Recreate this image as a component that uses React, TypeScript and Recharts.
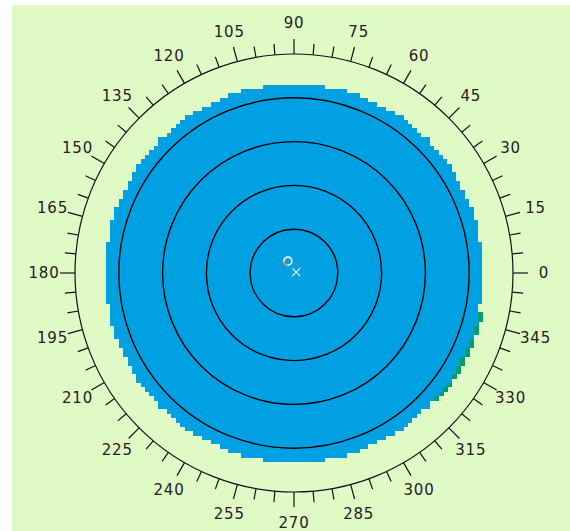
import React from 'react';
import {
  PieChart,
  Pie,
  RadarChart,
  PolarGrid,
  PolarAngleAxis,
  PolarRadiusAxis,
  ScatterChart,
  Scatter,
  XAxis,
  YAxis,
} from 'recharts';

const WIDTH = 558;
const HEIGHT = 526;
const CENTER_X = 282;
const CENTER_Y = 268;
const AXIS_RADIUS = 219;
const DISK_RADIUS = 189;
const FRINGE_RADIUS = 192.5;
const CELL = 4.38;

const BG = '#e0fac5';
const BLUE = '#00a0e3';
const FRINGE = '#009f6b';

// angle axis: labels every 15 degrees, ticks every 5 degrees
const angleLabels = [0, 15, 30, 45, 60, 75, 90, 105, 120, 135, 150, 165, 180, 195, 210, 225, 240, 255, 270, 285, 300, 315, 330, 345];
const angleTicks = Array.from({ length: 72 }, (_, i) => i * 5);

// radius axis: rings at 1..4, outer boundary at 5
const radiusDomain = [0, 5];
const ringValues = [1, 2, 3, 4];
const angleData = angleTicks.map((a, i) => ({ angle: a, r: i === 0 ? 0 : 5 }));

// coverage disk and the small fringe at lower right
const coverage = [{ name: 'coverage', value: 1 }];
const fringe = [{ name: 'fringe', value: 1 }];
const fringeStart = 318;
const fringeEnd = 348;

// centre markers (in radius units)
const centerCircle = [{ x: -0.14, y: 0.27 }];
const centerCross = [{ x: 0.05, y: 0.02 }];

const AngleTick = (props: any) => {
  const { x, y, payload } = props;
  const value = Number(payload.value);
  const deg = payload.coordinate ?? value;
  const a = (deg * Math.PI) / 180;
  const dx = Math.cos(-a);
  const dy = Math.sin(-a);
  const major = angleLabels.includes(value);
  const len = major ? 15 : 11;
  const bx = x - dx * 15;
  const by = y - dy * 15;
  return (
    <g>
      <line x1={bx} y1={by} x2={bx + dx * len} y2={by + dy * len} stroke="#111" strokeWidth={1.2} />
      {major && (
        <text
          x={x + dx * 16}
          y={y + dy * 16}
          textAnchor="middle"
          dominantBaseline="central"
          fontFamily="DejaVu Sans, Verdana, sans-serif"
          fontSize={15}
          letterSpacing={0.8}
          fill="#222"
        >
          {value}
        </text>
      )}
    </g>
  );
};

const PixelSector = (props: any) => {
  const { cx, cy, outerRadius, startAngle, endAngle, fill } = props;
  const R = outerRadius;
  const n = Math.ceil(R / CELL) + 1;
  const full = Math.abs(endAngle - startAngle) >= 359.99;
  if (full) {
    let d = '';
    for (let j = -n; j < n; j++) {
      const yc = (j + 0.5) * CELL;
      if (Math.abs(yc) > R) continue;
      const k = Math.floor(Math.sqrt(R * R - yc * yc) / CELL + 0.5);
      if (k <= 0) continue;
      d += `M${cx - k * CELL},${cy + j * CELL}h${2 * k * CELL}v${CELL + 0.6}h${-2 * k * CELL}Z`;
    }
    return <path d={d} fill={fill} stroke="none" shapeRendering="crispEdges" />;
  }
  const lo = Math.min(startAngle, endAngle);
  const hi = Math.max(startAngle, endAngle);
  let d = '';
  for (let j = -n; j < n; j++) {
    for (let i = -n; i < n; i++) {
      const xc = (i + 0.5) * CELL;
      const yc = (j + 0.5) * CELL;
      if (xc * xc + yc * yc > R * R) continue;
      let ang = (Math.atan2(-yc, xc) * 180) / Math.PI;
      if (ang < 0) ang += 360;
      if (ang < lo || ang > hi) continue;
      d += `M${cx + i * CELL},${cy + j * CELL}h${CELL + 0.6}v${CELL + 0.6}h${-(CELL + 0.6)}Z`;
    }
  }
  return <path d={d} fill={fill} stroke="none" shapeRendering="crispEdges" />;
};

const CircleMarker = (props: any) => {
  const { cx, cy } = props;
  const r = 4;
  return (
    <g>
      <circle cx={cx} cy={cy} r={r} fill="none" stroke="#ffffff" strokeWidth={1.6} />
      <path
        d={`M${cx - r},${cy} A${r},${r} 0 0 0 ${cx},${cy + r}`}
        fill="none"
        stroke="#f08020"
        strokeWidth={1.6}
      />
    </g>
  );
};

const CrossMarker = (props: any) => {
  const { cx, cy } = props;
  const s = 4;
  return (
    <g stroke="#e8f4ff" strokeWidth={1.3}>
      <line x1={cx - s} y1={cy - s} x2={cx + s} y2={cy + s} />
      <line x1={cx - s} y1={cy + s} x2={cx + s} y2={cy - s} />
    </g>
  );
};

const layer: React.CSSProperties = { position: 'absolute', left: 0, top: 0 };

export default function App() {
  const left = CENTER_X - AXIS_RADIUS;
  const top = CENTER_Y - AXIS_RADIUS;
  const right = WIDTH - (CENTER_X + AXIS_RADIUS);
  const bottom = HEIGHT - (CENTER_Y + AXIS_RADIUS);
  const zero = { top: 0, right: 0, bottom: 0, left: 0 };
  return (
    <div
      style={{
        position: 'absolute',
        left: 12,
        top: 5,
        width: WIDTH,
        height: HEIGHT,
        background: BG,
        overflow: 'hidden',
      }}
    >
      <div style={layer}>
        <PieChart width={WIDTH} height={HEIGHT} margin={zero}>
          <Pie
            data={fringe}
            dataKey="value"
            cx={CENTER_X}
            cy={CENTER_Y}
            innerRadius={0}
            outerRadius={FRINGE_RADIUS}
            startAngle={fringeStart}
            endAngle={fringeEnd}
            fill={FRINGE}
            stroke="none"
            label={false}
            labelLine={false}
            isAnimationActive={false}
            shape={PixelSector}
            activeShape={PixelSector}
            inactiveShape={PixelSector}
          />
          <Pie
            data={coverage}
            dataKey="value"
            cx={CENTER_X}
            cy={CENTER_Y}
            innerRadius={0}
            outerRadius={DISK_RADIUS}
            startAngle={0}
            endAngle={360}
            fill={BLUE}
            stroke="none"
            label={false}
            labelLine={false}
            isAnimationActive={false}
            shape={PixelSector}
            activeShape={PixelSector}
            inactiveShape={PixelSector}
          />
        </PieChart>
      </div>
      <div style={layer}>
        <RadarChart
          width={WIDTH}
          height={HEIGHT}
          data={angleData}
          cx={CENTER_X}
          cy={CENTER_Y}
          innerRadius={0}
          outerRadius={AXIS_RADIUS}
          startAngle={0}
          endAngle={360}
          margin={zero}
        >
          <PolarGrid gridType="circle" radialLines={false} stroke="#000" strokeWidth={1.4} />
          <PolarRadiusAxis
            type="number"
            dataKey="r"
            domain={radiusDomain}
            ticks={ringValues}
            allowDataOverflow
            tick={false}
            axisLine={false}
            tickLine={false}
          />
          <PolarAngleAxis
            type="number"
            dataKey="angle"
            domain={[0, 360]}
            allowDataOverflow
            ticks={angleTicks}
            tickSize={15}
            tick={AngleTick}
            tickLine={false}
            axisLineType="circle"
            axisLine={{ stroke: '#111', strokeWidth: 1.2 }}
          />
        </RadarChart>
      </div>
      <div style={layer}>
        <ScatterChart width={WIDTH} height={HEIGHT} margin={{ top, right, bottom, left }}>
          <XAxis type="number" dataKey="x" domain={[-5, 5]} hide />
          <YAxis type="number" dataKey="y" domain={[-5, 5]} hide />
          <Scatter data={centerCircle} shape={CircleMarker} isAnimationActive={false} />
          <Scatter data={centerCross} shape={CrossMarker} isAnimationActive={false} />
        </ScatterChart>
      </div>
    </div>
  );
}
